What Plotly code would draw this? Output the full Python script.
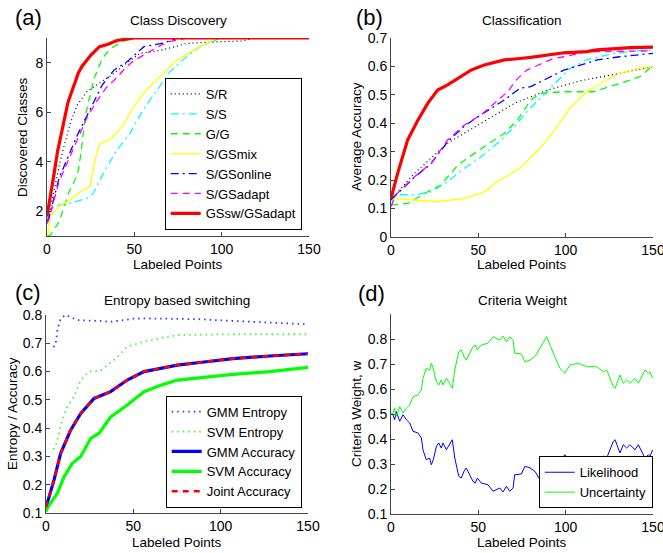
import plotly.graph_objects as go

W, H = 663, 553
FONT = "Liberation Sans, Arial, sans-serif"

# ---------------- (a) Class Discovery ----------------
a_sr_x = [0, 1, 4, 7, 10, 13.5, 17.4, 23, 31.6, 36, 45, 53, 65, 80, 99, 112, 118, 150]
a_sr_y = [1.6, 1.85, 2.8, 3.85, 4.7, 5.6, 6.3, 6.85, 7.25, 7.45, 7.95, 8.38, 8.5, 8.78, 8.85, 8.88, 9, 9]
a_ss_x = [0, 1.3, 6.5, 13, 22.7, 26.5, 32.2, 40, 47.5, 55, 63, 70.4, 80, 87.6, 97, 101, 150]
a_ss_y = [1.7, 2.05, 2.25, 2.32, 2.52, 2.72, 3.53, 4.47, 5.15, 6.09, 6.9, 7.64, 8.25, 8.65, 8.92, 9, 9]
a_gg_x = [0, 2, 7, 12.6, 17.4, 19.3, 22, 27, 31.7, 36.5, 43, 50, 150]
a_gg_y = [1, 1.04, 1.58, 2.79, 3.46, 4.27, 5.89, 7.37, 8.18, 8.58, 8.85, 9, 9]
a_mix_x = [0, 0.8, 1.7, 6.5, 13.2, 18.9, 24.6, 27.5, 30.3, 36, 43.7, 49.4, 57, 66.6, 74.2, 83.8, 91.4, 97, 150]
a_mix_y = [1, 1.17, 1.78, 2.18, 2.45, 2.79, 3.0, 4.07, 4.75, 4.88, 5.48, 6.22, 6.9, 7.57, 8.1, 8.5, 8.78, 9, 9]
a_onl_x = [0, 1.1, 6.9, 12.6, 17.4, 23.1, 26.9, 31.6, 38.3, 46, 55.5, 66.6, 75, 150]
a_onl_y = [1.6, 1.73, 3.34, 4.27, 5.08, 5.89, 6.43, 7.1, 7.7, 8.05, 8.65, 8.8, 9, 9]
a_ada_x = [0, 1, 6.9, 12.6, 17.4, 23, 28, 34, 40, 45, 50, 57, 65, 70, 80, 150]
a_ada_y = [1.5, 1.65, 3.2, 4.1, 4.9, 5.8, 6.4, 7.0, 7.4, 7.8, 8.1, 8.38, 8.7, 8.85, 9, 9]
a_gssw_x = [0, 2, 4, 6, 8, 10, 12, 14, 16, 18, 20, 25, 30, 35, 40, 45, 50, 150]
a_gssw_y = [1.8, 2.6, 3.5, 4.4, 5.1, 5.7, 6.4, 6.8, 7.2, 7.6, 7.85, 8.3, 8.65, 8.75, 8.9, 8.95, 9, 9]

# ---------------- (b) Classification ----------------
b_sr_x = [0, 13.4, 32.4, 51.5, 70.6, 89.7, 108.8, 127.8, 150]
b_sr_y = [0.13, 0.224, 0.33, 0.4, 0.47, 0.517, 0.55, 0.572, 0.599]
b_ss_x = [0, 2, 13.4, 22.9, 32.4, 42, 51.5, 61, 70.6, 77.7, 89.1, 102.5, 112, 127.3, 146.3, 150]
b_ss_y = [0.107, 0.15, 0.148, 0.159, 0.195, 0.242, 0.282, 0.33, 0.388, 0.44, 0.511, 0.593, 0.623, 0.646, 0.658, 0.655]
b_gg_x = [0, 9.5, 21, 28.6, 38.2, 47.7, 53.4, 64.9, 72.5, 80.1, 85.3, 98.7, 115.8, 131, 142.5, 148, 150]
b_gg_y = [0.113, 0.118, 0.159, 0.183, 0.253, 0.294, 0.318, 0.365, 0.412, 0.482, 0.505, 0.511, 0.511, 0.54, 0.564, 0.593, 0.59]
b_mix_x = [0, 13.4, 26.7, 42, 53.4, 61, 73.8, 85.3, 92.9, 102.5, 112, 121.6, 131.2, 140.7, 150]
b_mix_y = [0.136, 0.13, 0.124, 0.136, 0.159, 0.195, 0.241, 0.312, 0.37, 0.453, 0.511, 0.546, 0.576, 0.593, 0.6]
b_onl_x = [0, 3.8, 13.4, 22.9, 32.4, 42, 51.5, 64.9, 73.8, 80, 92.9, 99, 112, 118, 131, 150]
b_onl_y = [0.131, 0.154, 0.21, 0.258, 0.335, 0.39, 0.43, 0.482, 0.523, 0.529, 0.57, 0.587, 0.611, 0.623, 0.634, 0.646]
b_ada_x = [0, 3, 13.4, 22.9, 32.4, 42, 51.5, 61, 66.8, 72.5, 77.7, 80, 92.9, 99, 112, 118, 150]
b_ada_y = [0.107, 0.15, 0.212, 0.259, 0.341, 0.394, 0.429, 0.482, 0.511, 0.558, 0.587, 0.593, 0.628, 0.634, 0.652, 0.652, 0.655]
b_gssw_x = [0, 3.8, 9.5, 15.3, 21, 26.7, 32.4, 38.2, 45.8, 53.4, 64.9, 73.8, 80, 99, 112, 118, 137, 150]
b_gssw_y = [0.136, 0.224, 0.341, 0.41, 0.47, 0.517, 0.535, 0.558, 0.587, 0.605, 0.623, 0.628, 0.632, 0.648, 0.652, 0.658, 0.666, 0.668]

# ---------------- (c) Entropy based switching ----------------
c_gmm_ent_x = [4.2, 5.5, 6.5, 8.4, 11.3, 17.9, 30.9, 37, 50, 56, 69, 88, 107, 126, 150]
c_gmm_ent_y = [0.687, 0.694, 0.747, 0.788, 0.8, 0.782, 0.779, 0.776, 0.787, 0.788, 0.787, 0.785, 0.779, 0.773, 0.767]
c_svm_ent_x = [4.2, 5.5, 7.4, 9.3, 12.2, 16, 19.9, 24.6, 30.9, 40.5, 46.5, 56.1, 65.7, 75.2, 107, 150]
c_svm_ent_y = [0.325, 0.334, 0.382, 0.429, 0.476, 0.511, 0.57, 0.6, 0.602, 0.649, 0.688, 0.706, 0.718, 0.729, 0.732, 0.732]
c_gmm_acc_x = [0, 0.7, 4.6, 8.4, 14.1, 19.9, 27.5, 37, 46.5, 56.1, 65.7, 75.2, 88, 107, 128, 150]
c_gmm_acc_y = [0.12, 0.134, 0.217, 0.311, 0.393, 0.452, 0.505, 0.529, 0.57, 0.6, 0.612, 0.623, 0.632, 0.646, 0.655, 0.663]
c_svm_acc_x = [0, 0.7, 6.5, 10.3, 15.1, 19.9, 25.6, 30.4, 37, 46.5, 56.1, 65.7, 75.2, 88, 107, 128, 150]
c_svm_acc_y = [0.105, 0.117, 0.17, 0.228, 0.276, 0.3, 0.364, 0.382, 0.44, 0.482, 0.529, 0.552, 0.57, 0.578, 0.59, 0.6, 0.615]
c_joint_x = [0, 0.7, 4.6, 8.4, 14.1, 19.9, 27.5, 37, 46.5, 56.1, 65.7, 75.2, 88, 107, 128, 150]
c_joint_y = [0.12, 0.134, 0.217, 0.311, 0.393, 0.452, 0.505, 0.529, 0.57, 0.6, 0.612, 0.623, 0.632, 0.646, 0.655, 0.663]

# ---------------- (d) Criteria Weight ----------------
d_x = [0, 1.1, 2.1, 3, 5, 6.9, 8.8, 10.7, 12.6, 15.5, 17.4, 18.3, 20.2, 22.1, 23.1, 24.2, 26, 27.3, 28.8,
       29.8, 31.7, 33.6, 35.1, 36.5, 38.8, 40.2, 41.8, 43.1, 45, 46.9, 48.3, 49.4, 51.7, 55.5, 58.4, 60.3,
       62.3, 64.1, 66.1, 68, 69.9, 70.8, 74.6, 76.7, 79.6, 82.4, 85.3, 89.1, 92.9, 96.7, 99.6, 102.5, 107.3,
       112, 117.8, 121.6, 123.5, 127.3, 128.3, 131.1, 133, 134.9, 136.8, 139.7, 141.6, 145.4, 147.3, 148.3, 149.8]
d_uncert = [0.5, 0.503, 0.523, 0.49, 0.529, 0.503, 0.523, 0.536, 0.569, 0.576, 0.596, 0.643, 0.683, 0.676, 0.703,
            0.683, 0.629, 0.616, 0.636, 0.616, 0.643, 0.623, 0.603, 0.676, 0.749, 0.756, 0.729, 0.716, 0.743,
            0.769, 0.776, 0.756, 0.776, 0.783, 0.809, 0.803, 0.796, 0.812, 0.789, 0.809, 0.796, 0.743, 0.74,
            0.709, 0.716, 0.729, 0.763, 0.809, 0.743, 0.683, 0.663, 0.696, 0.703, 0.689, 0.689, 0.669, 0.676,
            0.609, 0.603, 0.656, 0.623, 0.636, 0.623, 0.643, 0.623, 0.676, 0.663, 0.669, 0.643]
d_likeli = [0.5, 0.497, 0.477, 0.51, 0.471, 0.497, 0.477, 0.464, 0.431, 0.424, 0.404, 0.357, 0.317, 0.324, 0.297,
            0.317, 0.371, 0.384, 0.364, 0.384, 0.357, 0.377, 0.397, 0.324, 0.251, 0.244, 0.271, 0.284, 0.257,
            0.231, 0.224, 0.244, 0.224, 0.217, 0.191, 0.197, 0.204, 0.188, 0.211, 0.191, 0.204, 0.257, 0.26,
            0.291, 0.284, 0.271, 0.237, 0.191, 0.257, 0.317, 0.337, 0.304, 0.297, 0.311, 0.311, 0.331, 0.324,
            0.391, 0.397, 0.344, 0.377, 0.364, 0.377, 0.357, 0.377, 0.324, 0.337, 0.331, 0.357]

x_ticks = [0, 50, 100, 150]


def dx(l, r):
    return [l / W, r / W]


def dy(t, b):
    return [1 - b / H, 1 - t / H]


fig = go.Figure()

# series styles for (a) and (b)
ab_series = [
    ("S/R", "black", "1px,3px", 1.2),
    ("S/S", "#00FFFF", "8px,4px,2px,4px", 1.3),
    ("G/G", "#00FF00", "7px,5px", 1.3),
    ("S/GSmix", "#FFFF00", "solid", 1.3),
    ("S/GSonline", "#0000FF", "8px,4px,2px,4px", 1.3),
    ("S/GSadapt", "#FF00FF", "7px,5px", 1.3),
    ("GSsw/GSadapt", "#FF0000", "solid", 3.2),
]
a_data = [(a_sr_x, a_sr_y), (a_ss_x, a_ss_y), (a_gg_x, a_gg_y), (a_mix_x, a_mix_y),
          (a_onl_x, a_onl_y), (a_ada_x, a_ada_y), (a_gssw_x, a_gssw_y)]
b_data = [(b_sr_x, b_sr_y), (b_ss_x, b_ss_y), (b_gg_x, b_gg_y), (b_mix_x, b_mix_y),
          (b_onl_x, b_onl_y), (b_ada_x, b_ada_y), (b_gssw_x, b_gssw_y)]

for (name, col, dash, w), (xs, ys) in zip(ab_series, a_data):
    fig.add_trace(go.Scatter(x=xs, y=ys, mode="lines", name=name, xaxis="x", yaxis="y",
                             line=dict(color=col, dash=dash, width=w), legend="legend"))
for (name, col, dash, w), (xs, ys) in zip(ab_series, b_data):
    fig.add_trace(go.Scatter(x=xs, y=ys, mode="lines", name=name, xaxis="x2", yaxis="y2",
                             line=dict(color=col, dash=dash, width=w), showlegend=False))

c_series = [
    ("GMM Entropy", c_gmm_ent_x, c_gmm_ent_y, "#3333FF", "1.5px,4px", 1.8),
    ("SVM Entropy", c_svm_ent_x, c_svm_ent_y, "#33FF33", "1.5px,4px", 1.8),
    ("GMM Accuracy", c_gmm_acc_x, c_gmm_acc_y, "#0000FF", "solid", 3.2),
    ("SVM Accuracy", c_svm_acc_x, c_svm_acc_y, "#00FF00", "solid", 3.2),
    ("Joint Accuracy", c_joint_x, c_joint_y, "#FF0000", "6px,5px", 2.6),
]
for name, xs, ys, col, dash, w in c_series:
    fig.add_trace(go.Scatter(x=xs, y=ys, mode="lines", name=name, xaxis="x3", yaxis="y3",
                             line=dict(color=col, dash=dash, width=w), legend="legend2"))

fig.add_trace(go.Scatter(x=d_x, y=d_likeli, mode="lines", name="Likelihood", xaxis="x4", yaxis="y4",
                         line=dict(color="#0000FF", width=1), legend="legend3"))
fig.add_trace(go.Scatter(x=d_x, y=d_uncert, mode="lines", name="Uncertainty", xaxis="x4", yaxis="y4",
                         line=dict(color="#00FF00", width=1), legend="legend3"))

axcommon = dict(showline=True, linecolor="#444", linewidth=1, ticks="inside", ticklen=4,
                tickcolor="#444", showgrid=False, zeroline=False, mirror=False,
                tickfont=dict(family=FONT, size=14, color="black"), automargin=False,
                ticklabeloverflow="allow")

fig.update_layout(
    width=W, height=H, margin=dict(l=0, r=0, t=0, b=0),
    paper_bgcolor="white", plot_bgcolor="white",
    font=dict(family=FONT, color="black"),
    xaxis=dict(domain=dx(47, 309), range=[0, 150], tickvals=x_ticks, anchor="y", **axcommon),
    yaxis=dict(domain=dy(38, 236), range=[1, 9], tickvals=[2, 4, 6, 8], anchor="x", **axcommon),
    xaxis2=dict(domain=dx(391, 653), range=[0, 150], tickvals=x_ticks, anchor="y2", **axcommon),
    yaxis2=dict(domain=dy(38, 237), range=[0, 0.7], tickvals=[0, 0.1, 0.2, 0.3, 0.4, 0.5, 0.6, 0.7],
                anchor="x2", **axcommon),
    xaxis3=dict(domain=dx(46, 308), range=[0, 150], tickvals=x_ticks, anchor="y3", **axcommon),
    yaxis3=dict(domain=dy(315, 513), range=[0.1, 0.8], tickvals=[0.1, 0.2, 0.3, 0.4, 0.5, 0.6, 0.7, 0.8],
                anchor="x3", **axcommon),
    xaxis4=dict(domain=dx(391, 653), range=[0, 150], tickvals=x_ticks, anchor="y4", **axcommon),
    yaxis4=dict(domain=dy(314, 514), range=[0.1, 0.9], tickvals=[0.1, 0.2, 0.3, 0.4, 0.5, 0.6, 0.7, 0.8],
                anchor="x4", **axcommon),
    legend=dict(x=301.7 / W, y=1 - 230 / H, xanchor="right", yanchor="bottom",
                bgcolor="white", bordercolor="black", borderwidth=1,
                font=dict(family=FONT, size=13), tracegroupgap=0),
    legend2=dict(x=301.7 / W, y=1 - 507.7 / H, xanchor="right", yanchor="bottom",
                 bgcolor="white", bordercolor="black", borderwidth=1,
                 font=dict(family=FONT, size=13), tracegroupgap=0),
    legend3=dict(x=652.7 / W, y=1 - 508.3 / H, xanchor="right", yanchor="bottom",
                 bgcolor="white", bordercolor="black", borderwidth=1,
                 font=dict(family=FONT, size=13), tracegroupgap=0),
    showlegend=True,
)

annots = [
    # panel labels
    ("(a)", 13, 17, 22, 0, "left"), ("(b)", 354, 17, 22, 0, "left"),
    ("(c)", 13, 292, 22, 0, "left"), ("(d)", 356, 293, 22, 0, "left"),
    # titles
    ("Class Discovery", 178, 21, 13.5, 0, "center"), ("Classification", 522, 21, 13.5, 0, "center"),
    ("Entropy based switching", 177, 300, 13.5, 0, "center"), ("Criteria Weight", 522, 300, 13.5, 0, "center"),
    # axis titles
    ("Labeled Points", 178, 264, 13.5, 0, "center"), ("Labeled Points", 522, 264, 13.5, 0, "center"),
    ("Labeled Points", 177, 542, 13.5, 0, "center"), ("Labeled Points", 522, 542, 13.5, 0, "center"),
    ("Discovered Classes", 22, 137, 13.5, -90, "center"), ("Average Accuracy", 356, 137, 13.5, -90, "center"),
    ("Entropy / Accuracy", 12, 414, 13.5, -90, "center"), ("Criteria Weight, w", 356, 414, 13.5, -90, "center"),
]
for text, px, py, size, ang, align in annots:
    fig.add_annotation(text=text, x=px / W, y=1 - py / H, xref="paper", yref="paper",
                       xanchor=align if ang == 0 else "center", yanchor="middle",
                       showarrow=False, textangle=ang, font=dict(family=FONT, size=size, color="black"))

fig.write_html("out.html")
